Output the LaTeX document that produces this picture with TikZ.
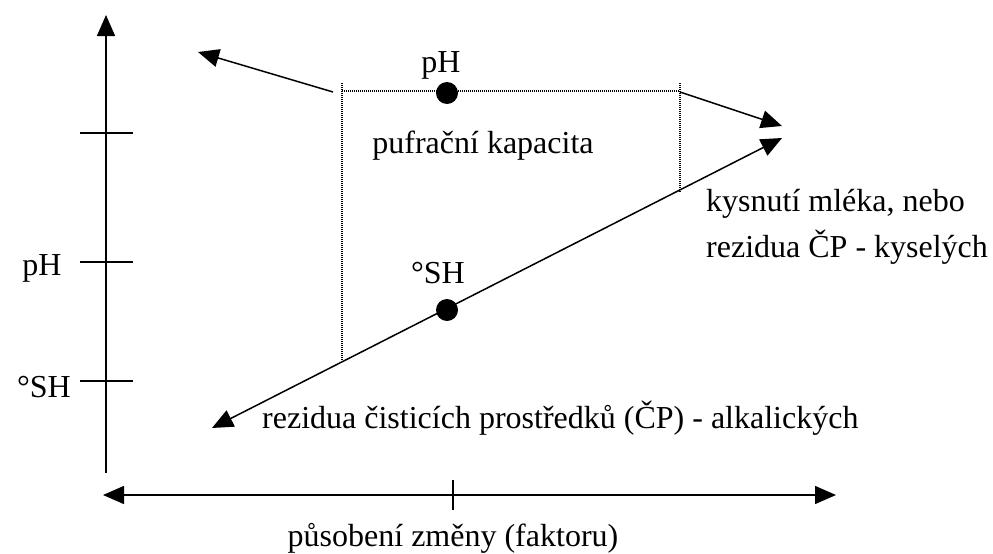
\documentclass[tikz,border=0pt]{standalone}
\usepackage{fontspec}
\setmainfont{Liberation Serif}
\usetikzlibrary{arrows.meta}
\begin{document}
\begin{tikzpicture}[x=1pt,y=-1pt,
  axis/.style={line width=1.5pt},
  tri/.tip={Triangle[length=21pt,width=18pt]},
  tip/.style={-tri},
  dots/.style={line width=2.8pt,dash pattern=on 1pt off 1pt},
  lbl/.style={font=\fontsize{32}{36}\selectfont,inner sep=0pt},
  blob/.style={circle,fill=black,minimum size=22pt,inner sep=0pt}]
\useasboundingbox (0,0) rectangle (993,554);
% vertical axis
\coordinate (vb) at (106,473);
\coordinate (vt) at (106,15);
\draw[axis,tip] (vb) -- (vt);
\foreach \n/\y in {t1/133,t2/262,t3/381}{
  \coordinate (\n a) at (80,\y); \coordinate (\n b) at (133,\y);
  \draw[axis] (\n a) -- (\n b);}
\node[lbl] (lph) at (42,268) {pH};
\node[lbl] (lsh) at (44,387) {°SH};
% horizontal axis
\coordinate (hl) at (103,495);
\coordinate (hr) at (836,495);
\draw[axis,tri-tri] (hl) -- (hr);
\coordinate (hta) at (453,480); \coordinate (htb) at (453,510);
\draw[axis] (hta) -- (htb);
\node[lbl] (lx) at (453,538) {působení změny (faktoru)};
% dotted box
\coordinate (lt) at (342,83); \coordinate (lb) at (342,360);
\coordinate (rt) at (680,83); \coordinate (rb) at (680,192);
\coordinate (tl) at (342,91); \coordinate (tr) at (680,91);
\draw[dots] (lt) -- (lb);
\draw[dots] (rt) -- (rb);
\draw[dots] (tl) -- (tr);
\node[blob] (dph) at (447,93) {};
\node[lbl] (tph) at (441,65) {pH};
\node[lbl] (tpk) at (483,146) {pufrační kapacita};
% arrows from box
\coordinate (a1s) at (333,92); \coordinate (a1e) at (198,52);
\draw[axis,tip] (a1s) -- (a1e);
\coordinate (a2s) at (680,92); \coordinate (a2e) at (782,126);
\draw[axis,tip] (a2s) -- (a2e);
% diagonal
\coordinate (dl) at (212,428); \coordinate (dr) at (782,138);
\draw[axis,tri-tri] (dl) -- (dr);
\node[blob] (dsh) at (447,310) {};
\node[lbl] (tsh) at (438,273) {°SH};
\node[lbl,anchor=west] (tk1) at (706,204) {kysnutí mléka, nebo};
\node[lbl,anchor=west] (tk2) at (706,247) {rezidua ČP - kyselých};
\node[lbl,anchor=west] (tr2) at (262,418) {rezidua čisticích prostředků (ČP) - alkalických};
\end{tikzpicture}
\end{document}
